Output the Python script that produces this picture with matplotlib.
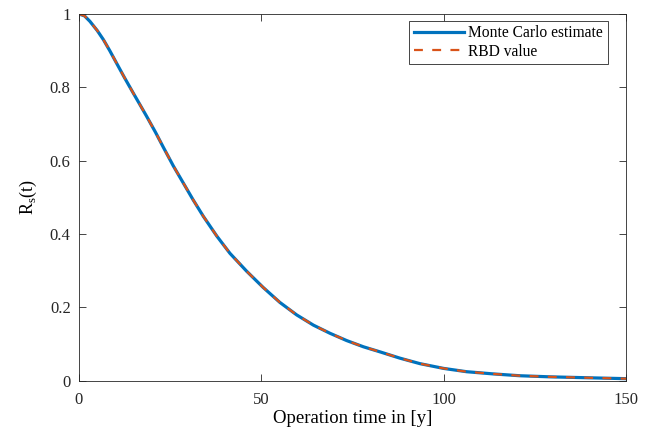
import matplotlib
matplotlib.use("Agg")
import matplotlib.pyplot as plt

# operation time [y] and system reliability
t_years = [0, 1.5, 3.0, 5.0, 6.7, 8.5, 10.3, 12.5, 14.9, 16.7, 18.6, 21.0, 23.1,
           25.9, 28.6, 31.3, 34.1, 37.8, 41.4, 46.0, 50.5, 55.1, 59.7, 64.3,
           68.8, 73.4, 78.0, 82.6, 88.0, 93.5, 100.0, 106.3, 113.6, 120.9,
           129.2, 137.4, 150.0]
r_mc = [1.0, 0.995, 0.980, 0.955, 0.930, 0.899, 0.866, 0.826, 0.784, 0.753,
        0.720, 0.677, 0.637, 0.585, 0.539, 0.493, 0.448, 0.394, 0.347, 0.298,
        0.254, 0.213, 0.179, 0.151, 0.129, 0.109, 0.092, 0.078, 0.061, 0.046,
        0.033, 0.024, 0.018, 0.013, 0.010, 0.008, 0.005]
r_rbd = [1.0, 0.995, 0.980, 0.955, 0.930, 0.899, 0.866, 0.826, 0.784, 0.753,
         0.720, 0.677, 0.637, 0.585, 0.539, 0.493, 0.448, 0.394, 0.347, 0.298,
         0.254, 0.213, 0.179, 0.151, 0.129, 0.109, 0.092, 0.078, 0.061, 0.046,
         0.033, 0.024, 0.018, 0.013, 0.010, 0.008, 0.005]

x_ticks = [0, 50, 100, 150]
y_ticks = [0, 0.2, 0.4, 0.6, 0.8, 1.0]
y_ticklabels = ["0", "0.2", "0.4", "0.6", "0.8", "1"]

plt.rcParams['font.family'] = ['Liberation Serif', 'DejaVu Serif']
plt.rcParams['mathtext.fontset'] = 'custom'
plt.rcParams['mathtext.rm'] = 'Liberation Serif'

axis_col = '#262626'

fig = plt.figure(figsize=(6.62, 4.30), dpi=100)
ax = fig.add_axes([0.1193, 0.1151, 0.8263, 0.8523])

ax.plot(t_years, r_mc, color='#0072BD', lw=2.3, solid_joinstyle='round',
        label='Monte Carlo estimate')
ax.plot(t_years, r_rbd, color='#D95319', lw=1.6, dashes=(4, 4.2),
        dash_joinstyle='round', label='RBD value')

ax.set_xlim(0, 150)
ax.set_ylim(0, 1)
ax.set_xticks(x_ticks)
ax.set_yticks(y_ticks)
ax.set_yticklabels(y_ticklabels)
ax.tick_params(direction='in', length=5, width=0.6, colors=axis_col, labelsize=12,
               top=True, right=True, pad=6)
ax.tick_params(axis='x', pad=8)
for s in ax.spines.values():
    s.set_color(axis_col)
    s.set_linewidth(0.6)

ax.set_xlabel('Operation time in [y]', fontsize=13.5, color='black', labelpad=1.5)
ax.set_ylabel(r'R$_\mathrm{s}$(t)', fontsize=13, color='black', labelpad=8)

leg = ax.legend(loc='upper right', bbox_to_anchor=(0.9666, 0.9817), borderaxespad=0,
                fontsize=11.2, handlelength=3.2, handletextpad=0.3, borderpad=0.3,
                labelspacing=0.15, fancybox=False, framealpha=1)
leg.get_frame().set_edgecolor(axis_col)
leg.get_frame().set_linewidth(0.6)

fig.savefig('out.png', dpi=100)
